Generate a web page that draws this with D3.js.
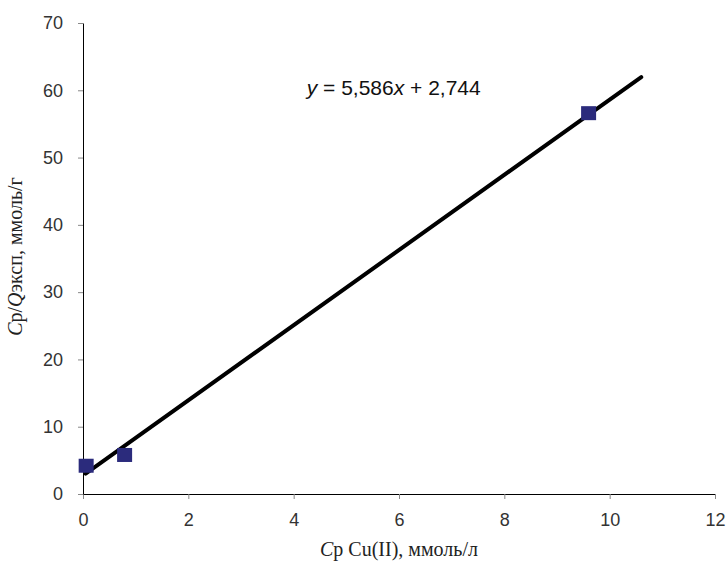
<!DOCTYPE html>
<html>
<head>
<meta charset="utf-8">
<script src="https://cdn.jsdelivr.net/npm/d3@7"></script>
<style>
    body { margin: 0; background: #fff; }
</style>
</head>
<body>
<div id="chart"></div>
<script>
// experimental points
const cpValues = [0.06, 0.79, 9.6];
const ratioValues = [4.2, 5.8, 56.6];

// linear trend y = 5,586x + 2,744
const slope = 5.586;
const intercept = 2.744;
const trendX = [0.05, 10.6];

const xTicks = [0, 2, 4, 6, 8, 10, 12];
const yTicks = [0, 10, 20, 30, 40, 50, 60, 70];

const sans = "'Liberation Sans', Arial, sans-serif";
const serif = "'Liberation Serif', 'DejaVu Serif', serif";

const margin = {top: 23, right: 12, bottom: 73, left: 83};

const svg = d3.select("#chart").append("svg")
    .attr("width", 727)
    .attr("height", 567)
    .append("g")
    .attr("transform", `translate(${margin.left}, ${margin.top})`);

const x = d3.scaleLinear().domain([0, 12]).range([0, 632]);
const y = d3.scaleLinear().domain([0, 70]).range([471, 0]);

const xAxisG = svg.append("g")
    .attr("transform", "translate(0," + y(0) + ")")
    .call(d3.axisBottom(x).tickValues(xTicks).tickSize(5).tickPadding(14).tickSizeOuter(0));

const yAxisG = svg.append("g")
    .call(d3.axisLeft(y).tickValues(yTicks).tickSize(5).tickPadding(15).tickSizeOuter(0));

[xAxisG, yAxisG].forEach(g => {
    g.attr("font-family", sans).attr("font-size", 18);
    g.selectAll("text").attr("fill", "#333");
    g.selectAll(".tick line").attr("stroke", "#888");
    g.select(".domain").attr("stroke", "#000");
});

// trend line
svg.append("line")
    .attr("x1", x(trendX[0]))
    .attr("y1", y(slope * trendX[0] + intercept))
    .attr("x2", x(trendX[1]))
    .attr("y2", y(slope * trendX[1] + intercept))
    .attr("stroke", "#000")
    .attr("stroke-width", 4)
    .attr("stroke-linecap", "round");

// markers
const pts = cpValues.map((d, i) => ({x: d, y: ratioValues[i]}));
svg.selectAll(".pt")
    .data(pts)
    .join("rect")
    .attr("class", "pt")
    .attr("x", d => x(d.x) - 7.5)
    .attr("y", d => y(d.y) - 7)
    .attr("width", 15)
    .attr("height", 14)
    .attr("fill", "#2b2b7c");

// equation
const eq = svg.append("text")
    .attr("x", x(5.9))
    .attr("y", y(59.3))
    .attr("text-anchor", "middle")
    .attr("font-family", sans)
    .attr("font-size", 21)
    .attr("fill", "#111");
eq.append("tspan").attr("font-style", "italic").text("y");
eq.append("tspan").text(" = 5,586");
eq.append("tspan").attr("font-style", "italic").text("x");
eq.append("tspan").text(" + 2,744");

// axis titles
const xt = svg.append("text")
    .attr("x", x(6))
    .attr("y", 471 + 62)
    .attr("text-anchor", "middle")
    .attr("font-family", serif)
    .attr("font-size", 20)
    .attr("fill", "#222");
xt.append("tspan").attr("font-style", "italic").text("C");
xt.append("tspan").text("р Cu(II), ммоль/л");

const yt = svg.append("text")
    .attr("transform", `translate(-61, ${y(35) - 2}) rotate(-90)`)
    .attr("text-anchor", "middle")
    .attr("font-family", serif)
    .attr("font-size", 20)
    .attr("fill", "#222");
yt.append("tspan").attr("font-style", "italic").text("C");
yt.append("tspan").text("р/");
yt.append("tspan").attr("font-style", "italic").text("Q");
yt.append("tspan").text("эксп, ммоль/г");
</script>
</body>
</html>
